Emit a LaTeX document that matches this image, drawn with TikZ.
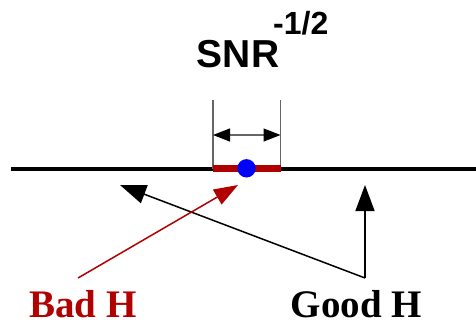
\documentclass[tikz,border=0pt]{standalone}
\usepackage{fontspec}
\setmainfont{Liberation Serif}
\newfontfamily\arialf{Liberation Sans}
\usetikzlibrary{arrows.meta}
\definecolor{darkred}{HTML}{B00000}
\definecolor{dimgray}{HTML}{666666}
\begin{document}
\begin{tikzpicture}[x=1pt,y=-1pt,
  conn/.style={line width=1.5pt,-{Triangle[length=26pt,width=19pt]}},
  dimline/.style={draw=dimgray,line width=1.2pt},
  lbl/.style={inner sep=0pt,anchor=base,font=\fontsize{39}{39}\selectfont\bfseries}]
\useasboundingbox (0,0) rectangle (476,329);
% main axis
\coordinate (L) at (11,168.5);
\coordinate (R) at (476,168.5);
\draw[line width=4pt] (L) -- (R);
% interval
\coordinate (a) at (213,168.5);
\coordinate (b) at (280.5,168.5);
\coordinate (at) at (213,100);
\coordinate (bt) at (280.5,100);
\draw[dimline] (at) -- (a);
\draw[dimline] (bt) -- (b);
\coordinate (da) at (213,135);
\coordinate (db) at (280.5,135);
\draw[dimline,{Triangle[length=17pt,width=13pt,color=black]}-{Triangle[length=17pt,width=13pt,color=black]}] (da) -- (db);
\draw[darkred,line width=6.5pt] (a) -- (b);
\fill[blue] (246.5,168.3) circle (9.2);
% title
\node[inner sep=0pt,anchor=base] (snr) at (238,67) {\arialf\fontsize{39}{39}\selectfont\bfseries SNR};
\node[inner sep=0pt,anchor=base west] (exp) at (273,35) {\arialf\fontsize{32}{32}\selectfont\bfseries -1/2};
% labels
\node[lbl,text=darkred] (bad) at (83,317) {Bad H};
\node[lbl] (good) at (356.5,317) {Good H};
% arrows
\coordinate (gs) at (365,278);
\coordinate (gt1) at (365,185);
\coordinate (gt2) at (120,185);
\coordinate (bs) at (78,278);
\coordinate (bt2) at (238,185);
\draw[conn] (gs) -- (gt1);
\draw[conn] (gs) -- (gt2);
\draw[conn,darkred,-{Triangle[length=24pt,width=17pt]}] (bs) -- (bt2);
\end{tikzpicture}
\end{document}
